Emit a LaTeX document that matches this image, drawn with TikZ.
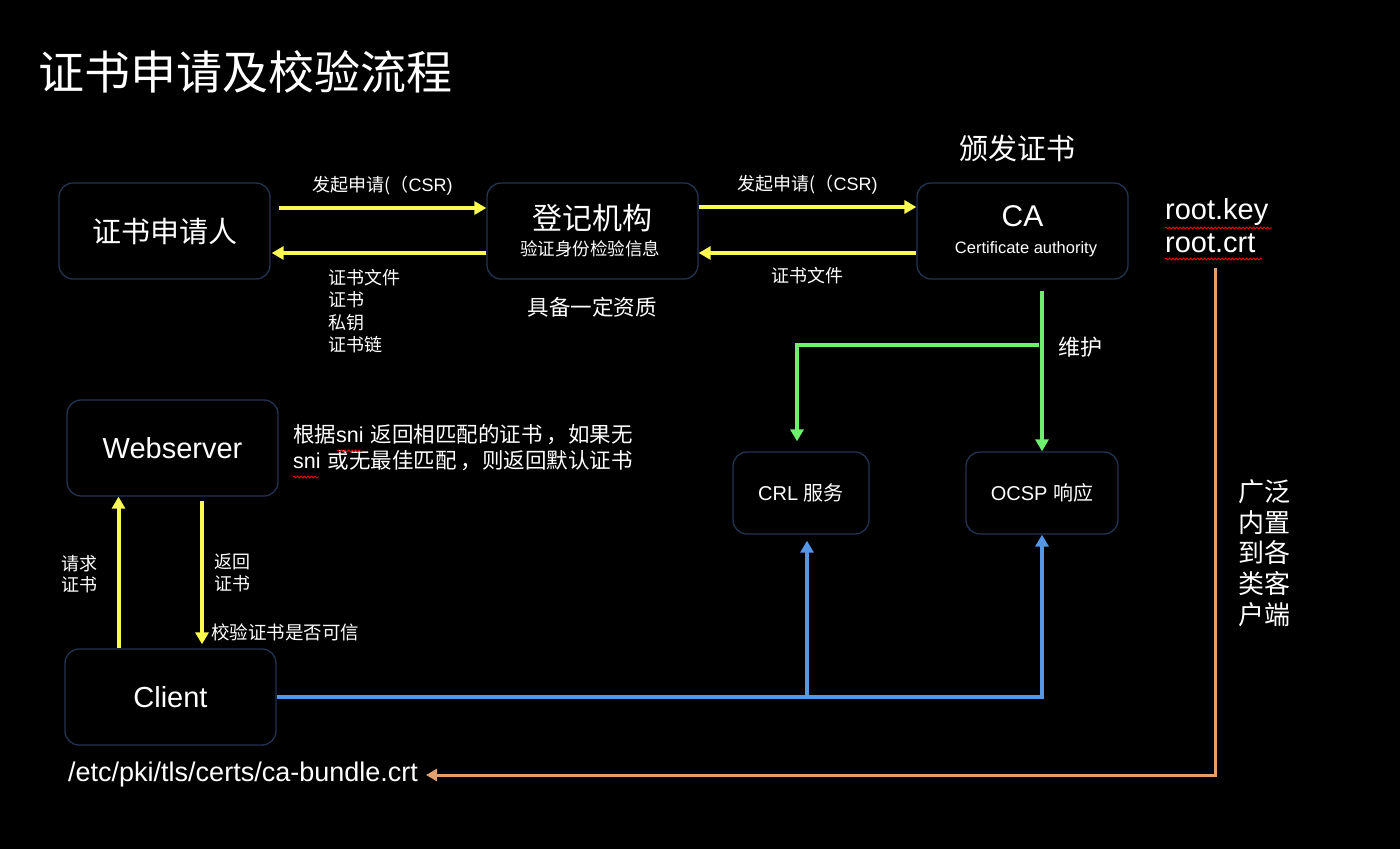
\documentclass[tikz,border=0pt]{standalone}
\usepackage{fontspec}
\setmainfont{Liberation Sans}
\newfontfamily\cjk{Noto Sans CJK SC}
\newfontfamily\lat{Liberation Sans}
\usetikzlibrary{arrows.meta,decorations.pathmorphing}
\definecolor{boxblue}{RGB}{35,52,82}
\definecolor{ylw}{RGB}{250,250,80}
\definecolor{grn}{RGB}{110,240,110}
\definecolor{blu}{RGB}{85,150,230}
\definecolor{org}{RGB}{225,160,110}
\newcommand\fs[2]{\fontsize{#1}{#2}\selectfont}
\begin{document}
\begin{tikzpicture}[x=1pt,y=-1pt,
  box/.style={draw=boxblue,line width=1.3pt,rounded corners=14pt,minimum width=211pt,minimum height=96pt,inner sep=0pt,text=white},
  sbox/.style={box,minimum height=82pt},
  txt/.style={text=white,inner sep=0pt},
  tip/.style={-{Triangle[length=12pt,width=13pt]}},
  yarr/.style={draw=ylw,line width=4pt,tip},
  garr/.style={draw=grn,line width=4pt},
  barr/.style={draw=blu,line width=4pt},
  oarr/.style={draw=org,line width=3pt},
  squig/.style={draw=red,line width=0.8pt,decorate,decoration={snake,amplitude=1pt,segment length=3.5pt}}
]
\fill[black] (0,0) rectangle (1400,849);
\useasboundingbox (0,0) rectangle (1400,849);

% title
\node[txt,anchor=west] (title) at (38,72) {\cjk\fs{46}{50}证书申请及校验流程};

% top row boxes
\node[box] (app) at (164.5,231) {\cjk\fs{29}{32}证书申请人};
\node[box] (reg) at (592.5,231) {};
\node[txt] (regt) at (592.5,218) {\cjk\fs{30}{32}登记机构};
\node[txt] (regs) at (590,249) {\cjk\fs{17.5}{20}验证身份检验信息};
\node[box] (ca) at (1022.5,231) {};
\node[txt] (cat) at (1022.5,216) {\fs{30}{32}CA};
\node[txt] (cas) at (1026,249) {\fs{16.5}{18}Certificate authority};
\node[txt] (issue) at (1017,148) {\cjk\fs{29}{32}颁发证书};
\node[txt] (qual) at (592,307) {\cjk\fs{21.5}{24}具备一定资质};

\node[txt,anchor=west] (rootkey) at (1165,212) {\fs{29}{32}root.key};
\node[txt,anchor=west] (rootcrt) at (1165,243) {\fs{29}{32}root.crt};
\draw[squig] (1165,228) -- (1272,228);
\draw[squig] (1165,259) -- (1262,259);

% top arrows
\draw[yarr] ([xshift=8pt,yshift=23pt]app.east) -- ([yshift=23pt]reg.west) node[midway,above=11pt,txt] (l1) {\cjk\fs{18}{20}发起申请(（\lat CSR)};
\draw[yarr] ([yshift=-22pt]reg.west) -- ([xshift=1pt,yshift=-22pt]app.east);
\node[txt,anchor=north west,align=left,font=\cjk\fs{18}{22.3}] (l2) at (328,269) {证书文件\\证书\\私钥\\证书链};
\draw[yarr] ([yshift=24pt]reg.east) -- ([yshift=24pt]ca.west) node[midway,above=11pt,txt] (l3) {\cjk\fs{18}{20}发起申请(（\lat CSR)};
\draw[yarr] ([yshift=-22pt]ca.west) -- ([yshift=-22pt]reg.east) node[midway,below=12pt,txt] (l4) {\cjk\fs{18}{20}证书文件};

% CRL / OCSP
\node[sbox,minimum width=136pt] (crl) at (801,493) {\fs{20}{22}CRL {\cjk 服务}};
\node[sbox,minimum width=152pt] (ocsp) at (1042,493) {\fs{20}{22}OCSP {\cjk 响应}};

% green
\draw[garr,tip] (ocsp.north |- ca.south) ++(0,11) -- (ocsp.north);
\coordinate (gj) at ([xshift=-3pt]ocsp.north |- 0,345);
\draw[garr,tip] (gj) -| ([xshift=-4pt,yshift=10pt]crl.north);
\node[txt] (maint) at (1080,347) {\cjk\fs{22}{24}维护};

% webserver / client
\node[box] (web) at (172.5,448) {\fs{29}{32}Webserver};
\node[box] (cli) at (170.5,697) {\fs{29}{32}Client};
\node[txt,anchor=north west,align=left,font=\cjk\fs{21.5}{26.5}] (sni) at (293,424) {根据{\lat sni}\hspace{7pt}返回相匹配的证书\hspace{4pt}，如果无\\{\lat sni}\hspace{7pt}或无最佳匹配\hspace{4pt}，则返回默认证书};
\draw[squig] (337,451) -- (363,451);
\draw[squig] (293,477) -- (319,477);

\draw[yarr] ([xshift=-52pt]cli.north) -- ([xshift=-52pt]cli.north |- web.south);
\draw[yarr] ([xshift=29.5pt,yshift=-4pt]web.south) -- ([xshift=31.5pt,yshift=4pt]cli.north);
\node[txt,anchor=east,align=left,font=\cjk\fs{18}{21.5}] (req) at (98,574) {请求\\证书};
\node[txt,anchor=west,align=left,font=\cjk\fs{18}{21.5}] (ret) at (214,573) {返回\\证书};
\node[txt,anchor=west] (chk) at (211,632) {\cjk\fs{18.5}{20}校验证书是否可信};

% blue
\draw[barr,tip] (cli.east) -- (cli.east -| ocsp.south) -- (ocsp.south);
\draw[barr,tip] ([xshift=6pt]crl.south |- cli.east) -- ([xshift=6pt,yshift=-6pt]crl.south);

% orange
\node[txt,anchor=west] (bundle) at (68,775) {\fs{27}{30}/etc/pki/tls/certs/ca-bundle.crt};
\coordinate (o1) at (1215,268);
\draw[oarr,-{Triangle[length=11pt,width=12pt]}] (o1) -- (o1 |- bundle.east) -- ([xshift=8pt]bundle.east);
\node[txt,align=left,font=\cjk\fs{26}{30.8}] (wide) at (1264,553) {广泛\\内置\\到各\\类客\\户端};
\end{tikzpicture}
\end{document}
